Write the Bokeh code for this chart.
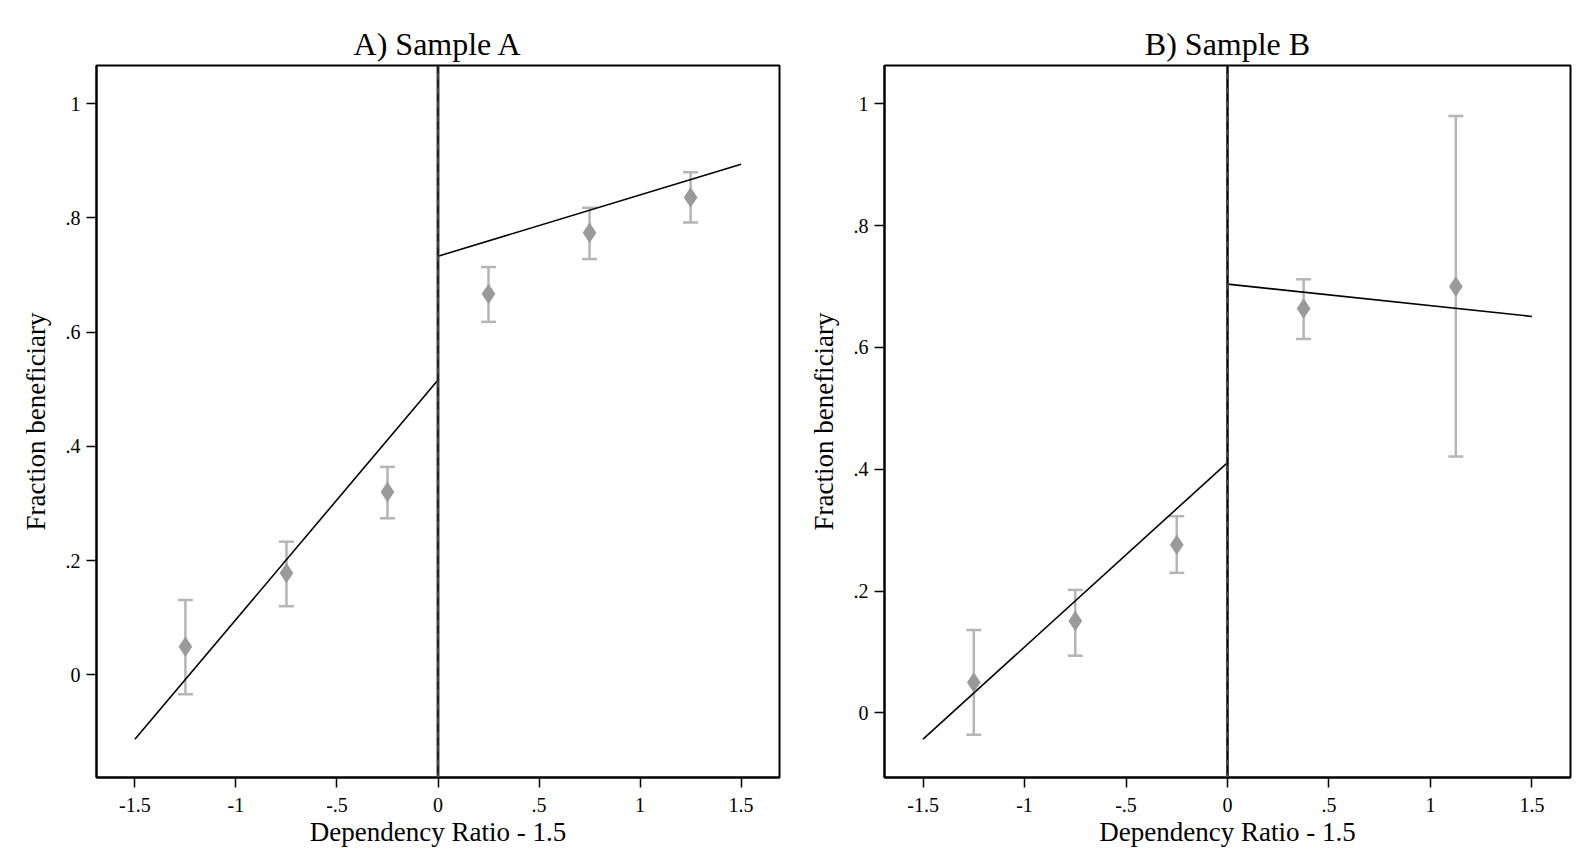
from bokeh.plotting import figure
from bokeh.layouts import row
from bokeh.models import ColumnDataSource, Whisker, TeeHead, Span, FixedTicker, Range1d
from bokeh.embed import file_html
from bokeh.resources import INLINE

# ---- Data ----
titles = ["A) Sample A", "B) Sample B"]
x_ticks = [-1.5, -1, -0.5, 0, 0.5, 1, 1.5]
x_tick_labels = ["-1.5", "-1", "-.5", "0", ".5", "1", "1.5"]
y_ticks = [0, 0.2, 0.4, 0.6, 0.8, 1.0]
y_tick_labels = ["0", ".2", ".4", ".6", ".8", "1"]

a_x = [-1.25, -0.75, -0.25, 0.25, 0.75, 1.25]
a_y = [0.049, 0.178, 0.320, 0.667, 0.774, 0.836]
a_lo = [-0.034, 0.120, 0.274, 0.618, 0.728, 0.792]
a_hi = [0.131, 0.233, 0.364, 0.714, 0.818, 0.880]
a_fit_left_x = [-1.5, 0.0]
a_fit_left_y = [-0.113, 0.516]
a_fit_right_x = [0.0, 1.5]
a_fit_right_y = [0.733, 0.894]

b_x = [-1.25, -0.75, -0.25, 0.375, 1.125]
b_y = [0.050, 0.151, 0.276, 0.664, 0.700]
b_lo = [-0.036, 0.094, 0.230, 0.614, 0.421]
b_hi = [0.136, 0.202, 0.323, 0.712, 0.980]
b_fit_left_x = [-1.5, 0.0]
b_fit_left_y = [-0.043, 0.411]
b_fit_right_x = [0.0, 1.5]
b_fit_right_y = [0.704, 0.651]

FONT = "Liberation Serif"


def make_panel(title, xs, ys, lo, hi, flx, fly, frx, fry, y_range, width, left, right):
    p = figure(width=width, height=865, output_backend="svg", toolbar_location=None,
               x_range=Range1d(-1.69, 1.69), y_range=Range1d(*y_range),
               min_border_left=left, min_border_right=right,
               min_border_top=65, min_border_bottom=88,
               background_fill_color="white", border_fill_color="white")
    p.title.text = title
    p.title.align = "center"
    p.title.text_font = FONT
    p.title.text_font_size = "32px"
    p.title.text_font_style = "normal"
    p.title.text_color = "black"
    p.title.standoff = 7
    p.grid.visible = False
    p.outline_line_color = "black"
    p.outline_line_width = 2

    for ax in (p.xaxis[0], p.yaxis[0]):
        ax.major_tick_in = 0
        ax.major_tick_out = 10
        ax.minor_tick_line_color = None
        ax.axis_line_color = "black"
        ax.axis_line_width = 2
        ax.major_tick_line_color = "black"
        ax.major_tick_line_width = 1.5
        ax.major_label_text_font = FONT
        ax.major_label_text_font_size = "20px"
        ax.major_label_text_color = "black"
        ax.axis_label_text_font = FONT
        ax.axis_label_text_font_size = "27px"
        ax.axis_label_text_font_style = "normal"
        ax.axis_label_text_color = "black"

    p.xaxis.ticker = FixedTicker(ticks=x_ticks)
    p.xaxis.major_label_overrides = {t: l for t, l in zip(x_ticks, x_tick_labels)}
    p.xaxis.axis_label = "Dependency Ratio - 1.5"
    p.xaxis.axis_label_standoff = 2
    p.xaxis.major_label_standoff = 10

    p.yaxis.ticker = FixedTicker(ticks=y_ticks)
    p.yaxis.major_label_overrides = {t: l for t, l in zip(y_ticks, y_tick_labels)}
    p.yaxis.major_label_orientation = "horizontal"
    p.yaxis.axis_label = "Fraction beneficiary"
    p.yaxis.axis_label_standoff = 12
    p.yaxis.major_label_standoff = 6

    # cutoff line at zero
    p.add_layout(Span(location=0, dimension="height", line_color="#454545", line_width=3))
    p.add_layout(Span(location=0, dimension="height", line_color="black", line_width=1,
                      line_dash="8 6"))

    src = ColumnDataSource(dict(x=xs, y=ys, lo=lo, hi=hi))
    w = Whisker(base="x", upper="hi", lower="lo", source=src,
                line_color="#b5b5b5", line_width=2.5,
                upper_head=TeeHead(size=15, line_color="#b5b5b5", line_width=2.5),
                lower_head=TeeHead(size=15, line_color="#b5b5b5", line_width=2.5))
    p.add_layout(w)

    p.line(flx, fly, line_color="black", line_width=1.6)
    p.line(frx, fry, line_color="black", line_width=1.6)

    p.scatter("x", "y", source=src, marker="diamond", size=19,
              fill_color="#9a9a9a", line_color="#9a9a9a")
    return p


pa = make_panel(titles[0], a_x, a_y, a_lo, a_hi, a_fit_left_x, a_fit_left_y,
                a_fit_right_x, a_fit_right_y, (-0.18, 1.067), 790, 96, 11)
pb = make_panel(titles[1], b_x, b_y, b_lo, b_hi, b_fit_left_x, b_fit_left_y,
                b_fit_right_x, b_fit_right_y, (-0.106, 1.063), 791, 94, 11)

layout = row(pa, pb)
open("out.html", "w").write(file_html(layout, INLINE))
